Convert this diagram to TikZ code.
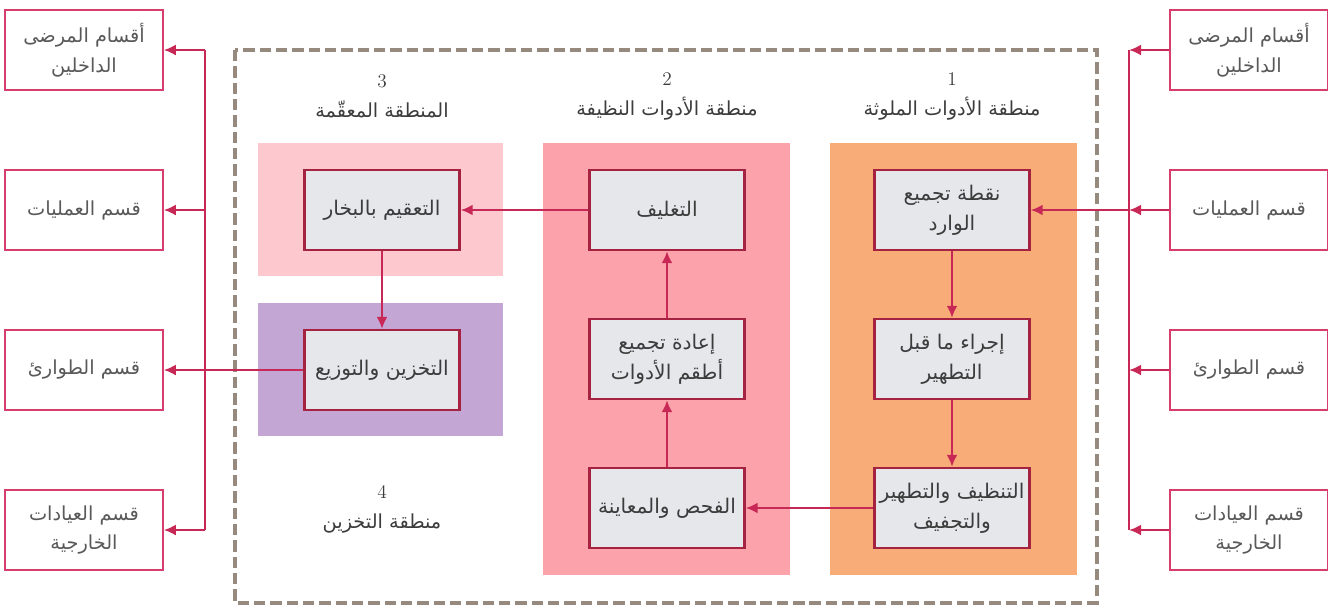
\documentclass[tikz,border=0pt]{standalone}
\usepackage{fontspec}
\usepackage{tikz}
\usetikzlibrary{arrows.meta, calc}
\newfontfamily\arabicfont[Script=Arabic]{DejaVu Sans}
\TeXXeTstate=1
\newcommand{\artxt}[1]{{\arabicfont\beginR #1\endR}}

\definecolor{flowred}{RGB}{200,40,85}
\definecolor{boxedge}{RGB}{165,35,65}
\definecolor{deptedge}{RGB}{214,62,110}
\definecolor{boxfill}{RGB}{229,231,235}
\definecolor{zoneone}{RGB}{248,173,120}
\definecolor{zonetwo}{RGB}{251,162,170}
\definecolor{zonethree}{RGB}{253,201,207}
\definecolor{zonefour}{RGB}{196,166,212}
\definecolor{framegray}{RGB}{150,138,126}
\definecolor{textgray}{RGB}{60,60,60}

\tikzset{
    my-step-box/.style={
        draw=boxedge, fill=boxfill, line width=1.4pt, align=center,
        minimum width=3.1cm, minimum height=1.6cm, inner sep=2pt,
        font=\fontsize{11.5}{17}\selectfont, text=textgray
    },
    my-dept-box/.style={
        draw=deptedge, fill=white, line width=1.2pt, align=center,
        minimum width=3.15cm, minimum height=1.6cm, inner sep=2pt,
        font=\fontsize{11}{17}\selectfont, text=textgray!85
    },
    my-zone-title/.style={
        align=center, font=\fontsize{11}{17}\selectfont, text=textgray
    },
    my-flow/.style={
        draw=flowred, line width=1.3pt, -{Latex[length=2.4mm,width=2.2mm]}
    },
    my-wire/.style={
        draw=flowred, line width=1.3pt
    },
}

\begin{document}
\begin{tikzpicture}[x=0.02cm, y=-0.02cm]

        \useasboundingbox (0,0) rectangle (1328,610);

        % FRAME AND ZONES
        \draw[framegray, line width=2pt, dash pattern=on 6.5pt off 2.8pt]
            (235,50) rectangle (1097,603);
        \fill[zoneone]   (830,143) rectangle (1077,575);
        \fill[zonetwo]   (543,143) rectangle (790,575);
        \fill[zonethree] (258,143) rectangle (503,276);
        \fill[zonefour]  (258,303) rectangle (503,436);

        % ZONE TITLES
        \node[my-zone-title] (T1) at (952,96)  {1\\ \artxt{منطقة الأدوات الملوثة}};
        \node[my-zone-title] (T2) at (667,96)  {2\\ \artxt{منطقة الأدوات النظيفة}};
        \node[my-zone-title] (T3) at (382,96)  {3\\ \artxt{المنطقة المعقّمة}};
        \node[my-zone-title] (T4) at (382,509) {4\\ \artxt{منطقة التخزين}};

        % STEPS
        \node[my-step-box] (COLLECT)  at (952,210) {\artxt{نقطة تجميع}\\ \artxt{الوارد}};
        \node[my-step-box] (PRE)      at (952,359) {\artxt{إجراء ما قبل}\\ \artxt{التطهير}};
        \node[my-step-box] (CLEAN)    at (952,508) {\artxt{التنظيف والتطهير}\\ \artxt{والتجفيف}};
        \node[my-step-box] (INSPECT)  at (667,508) {\artxt{الفحص والمعاينة}};
        \node[my-step-box] (ASSEMBLE) at (667,359) {\artxt{إعادة تجميع}\\ \artxt{أطقم الأدوات}};
        \node[my-step-box] (PACK)     at (667,210) {\artxt{التغليف}};
        \node[my-step-box] (STEAM)    at (382,210) {\artxt{التعقيم بالبخار}};
        \node[my-step-box] (STORE)    at (382,370) {\artxt{التخزين والتوزيع}};

        % DEPARTMENTS IN
        \node[my-dept-box] (RIN)  at (1249,50)  {\artxt{أقسام المرضى}\\ \artxt{الداخلين}};
        \node[my-dept-box] (ROPS) at (1249,210) {\artxt{قسم العمليات}};
        \node[my-dept-box] (RER)  at (1249,370) {\artxt{قسم الطوارئ}};
        \node[my-dept-box] (ROUT) at (1249,530) {\artxt{قسم العيادات}\\ \artxt{الخارجية}};

        % DEPARTMENTS OUT
        \node[my-dept-box] (LIN)  at (84,50)  {\artxt{أقسام المرضى}\\ \artxt{الداخلين}};
        \node[my-dept-box] (LOPS) at (84,210) {\artxt{قسم العمليات}};
        \node[my-dept-box] (LER)  at (84,370) {\artxt{قسم الطوارئ}};
        \node[my-dept-box] (LOUT) at (84,530) {\artxt{قسم العيادات}\\ \artxt{الخارجية}};

        % BUS POINTS
        \coordinate (RBUS1) at (1129,50);
        \coordinate (RBUS2) at (1129,210);
        \coordinate (RBUS3) at (1129,370);
        \coordinate (RBUS4) at (1129,530);
        \coordinate (LBUS1) at (205,50);
        \coordinate (LBUS2) at (205,210);
        \coordinate (LBUS3) at (205,370);
        \coordinate (LBUS4) at (205,530);

        % INPUT CONNECTIONS
        \draw[my-wire] (RBUS1) -- (RBUS4);
        \draw[my-flow] (RIN.west)  -- (RBUS1);
        \draw[my-flow] (ROPS.west) -- (RBUS2);
        \draw[my-flow] (RER.west)  -- (RBUS3);
        \draw[my-flow] (ROUT.west) -- (RBUS4);
        \draw[my-flow] (RBUS2) -- (COLLECT.east);

        % FLOW
        \draw[my-flow] (COLLECT.south) -- (PRE.north);
        \draw[my-flow] (PRE.south) -- (CLEAN.north);
        \draw[my-flow] (CLEAN.west) -- (INSPECT.east);
        \draw[my-flow] (INSPECT.north) -- (ASSEMBLE.south);
        \draw[my-flow] (ASSEMBLE.north) -- (PACK.south);
        \draw[my-flow] (PACK.west) -- (STEAM.east);
        \draw[my-flow] (STEAM.south) -- (STORE.north);

        % OUTPUT CONNECTIONS
        \draw[my-wire] (LBUS1) -- (LBUS4);
        \draw[my-flow] (STORE.west) -- (LER.east);
        \draw[my-flow] (LBUS1) -- (LIN.east);
        \draw[my-flow] (LBUS2) -- (LOPS.east);
        \draw[my-flow] (LBUS4) -- (LOUT.east);

    \end{tikzpicture}
\end{document}
